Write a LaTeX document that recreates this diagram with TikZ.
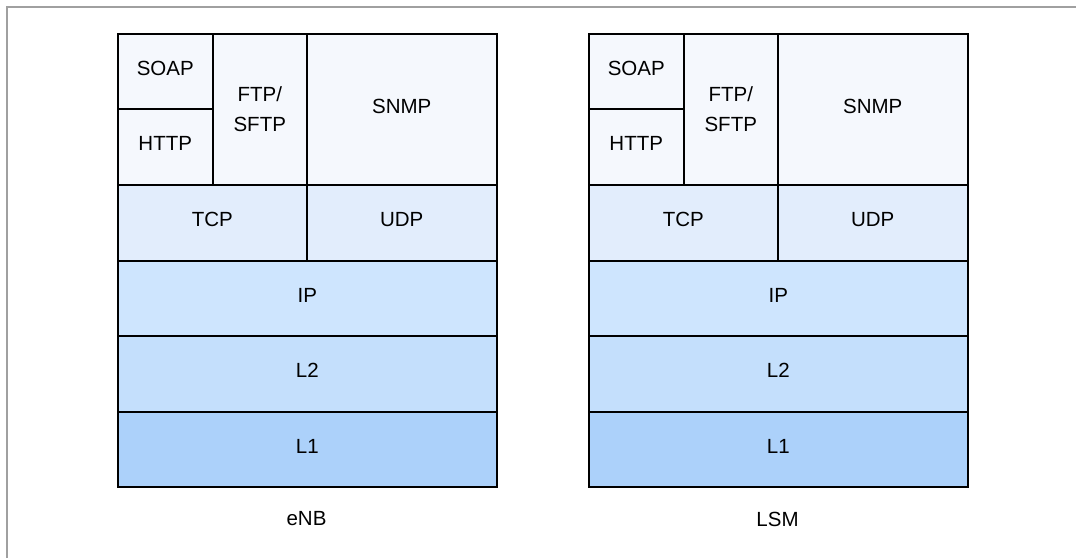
\documentclass[tikz,border=0pt]{standalone}
\usepackage{fontspec}
\setmainfont{Liberation Sans}
\definecolor{appc}{RGB}{245,248,253}
\definecolor{tcpc}{RGB}{226,237,252}
\definecolor{ipc}{RGB}{206,229,254}
\definecolor{ltwoc}{RGB}{196,223,252}
\definecolor{lonec}{RGB}{172,209,250}
\definecolor{framec}{RGB}{160,160,160}
\tikzset{
  layerbox/.style={draw=black, line width=1.5pt, anchor=north west, inner sep=0pt,
    font=\fontsize{20.5}{30}\selectfont, text height=14.7pt, text depth=7pt, align=center},
  twoline/.style={text height=44.7pt, text depth=1pt},
  stacklabel/.style={font=\fontsize{20.5}{24}\selectfont, inner sep=0pt}
}
\newcommand\drawlayerstack[3]{%
  % #1 name prefix, #2 left x, #3 caption
  \node[layerbox, fill=appc, minimum width=190pt, minimum height=151pt] (#1SNMP) at (#2+189,33) {SNMP};
  \node[layerbox, twoline, fill=appc, minimum width=94pt, minimum height=151pt] (#1FTP) at (#2+95,33) {FTP/\\SFTP};
  \node[layerbox, fill=appc, minimum width=95pt, minimum height=75pt] (#1SOAP) at (#2,33) {SOAP};
  \node[layerbox, fill=appc, minimum width=95pt, minimum height=76pt] (#1HTTP) at (#2,108) {HTTP};
  \node[layerbox, fill=tcpc, minimum width=190pt, minimum height=76pt] (#1UDP) at (#2+189,184) {UDP};
  \node[layerbox, fill=tcpc, minimum width=189pt, minimum height=76pt] (#1TCP) at (#2,184) {TCP};
  \node[layerbox, fill=ipc, minimum width=379pt, minimum height=75pt] (#1IP) at (#2,260) {IP};
  \node[layerbox, fill=ltwoc, minimum width=379pt, minimum height=76pt] (#1L2) at (#2,335) {L2};
  \node[layerbox, fill=lonec, minimum width=379pt, minimum height=75pt] (#1L1) at (#2,411) {L1};
  \node[stacklabel] (#1cap) at (#2+189.5,519) {#3};
}
\begin{document}
\begin{tikzpicture}[x=1pt,y=-1pt]
  \useasboundingbox (0,0) rectangle (1076,558);
  \draw[framec, line width=2pt] (7,558) -- (7,7) -- (1076,7);
  \drawlayerstack{e}{117}{eNB}
  \drawlayerstack{l}{588}{LSM}
\end{tikzpicture}
\end{document}
